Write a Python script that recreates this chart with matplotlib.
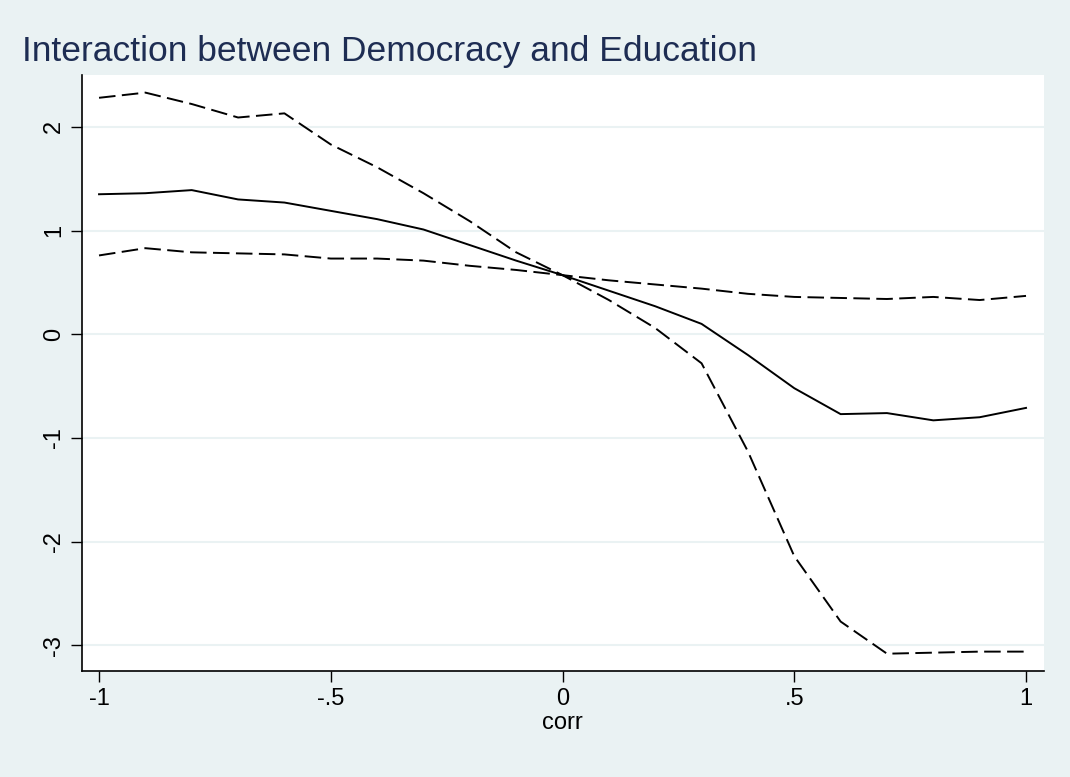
import matplotlib
matplotlib.use("Agg")
import matplotlib.pyplot as plt
import numpy as np

# Values
corr = [-1, -.9, -.8, -.7, -.6, -.5, -.4, -.3, -.2, -.1, 0,
        .1, .2, .3, .4, .5, .6, .7, .8, .9, 1]
effect = [1.35, 1.36, 1.39, 1.30, 1.27, 1.19, 1.11, 1.01, 0.86, 0.71, 0.57,
          0.42, 0.27, 0.10, -0.20, -0.52, -0.77, -0.76, -0.83, -0.80, -0.71]
upper = [2.28, 2.33, 2.22, 2.09, 2.13, 1.83, 1.61, 1.36, 1.09, 0.79, 0.57,
         0.33, 0.06, -0.28, -1.13, -2.14, -2.77, -3.08, -3.07, -3.06, -3.06]
lower = [0.76, 0.83, 0.79, 0.78, 0.77, 0.73, 0.73, 0.71, 0.66, 0.62, 0.57,
         0.52, 0.48, 0.44, 0.39, 0.36, 0.35, 0.34, 0.36, 0.33, 0.37]
xticks = [-1, -.5, 0, .5, 1]
xticklabels = ["-1", "-.5", "0", ".5", "1"]
yticks = [-3, -2, -1, 0, 1, 2]
yticklabels = ["-3", "-2", "-1", "0", "1", "2"]

bg = "#EAF2F3"
plt.rcParams["font.family"] = ["Liberation Sans", "DejaVu Sans"]

fig = plt.figure(figsize=(10.7, 7.77), dpi=100, facecolor=bg)
ax = fig.add_axes([0.0764, 0.1364, 0.8993, 0.7671])
ax.set_facecolor("white")

ax.plot(corr, upper, color="black", lw=1.4, dashes=(8.5, 3.3))
ax.plot(corr, effect, color="black", lw=1.4)
ax.plot(corr, lower, color="black", lw=1.4, dashes=(8.5, 3.3))

ax.set_xlim(-1.0373, 1.0388)
ax.set_ylim(-3.247, 2.50)
ax.set_xticks(xticks)
ax.set_xticklabels(xticklabels, fontsize=17)
ax.set_yticks(yticks)
ax.set_yticklabels(yticklabels, fontsize=17, rotation=90, va="center")
ax.tick_params(direction="out", length=8, width=1, color="black", pad=4)
ax.yaxis.grid(True, color=bg, lw=1.5)
ax.set_axisbelow(True)

for side in ["top", "right"]:
    ax.spines[side].set_visible(False)
for side in ["left", "bottom"]:
    ax.spines[side].set_linewidth(1.2)

ax.set_xlabel("corr", fontsize=17, labelpad=2)
fig.text(0.021, 0.922, "Interaction between Democracy and Education",
         fontsize=25.5, color="#1E2D53", ha="left", va="baseline")

fig.savefig("out.png", dpi=100, facecolor=bg)
